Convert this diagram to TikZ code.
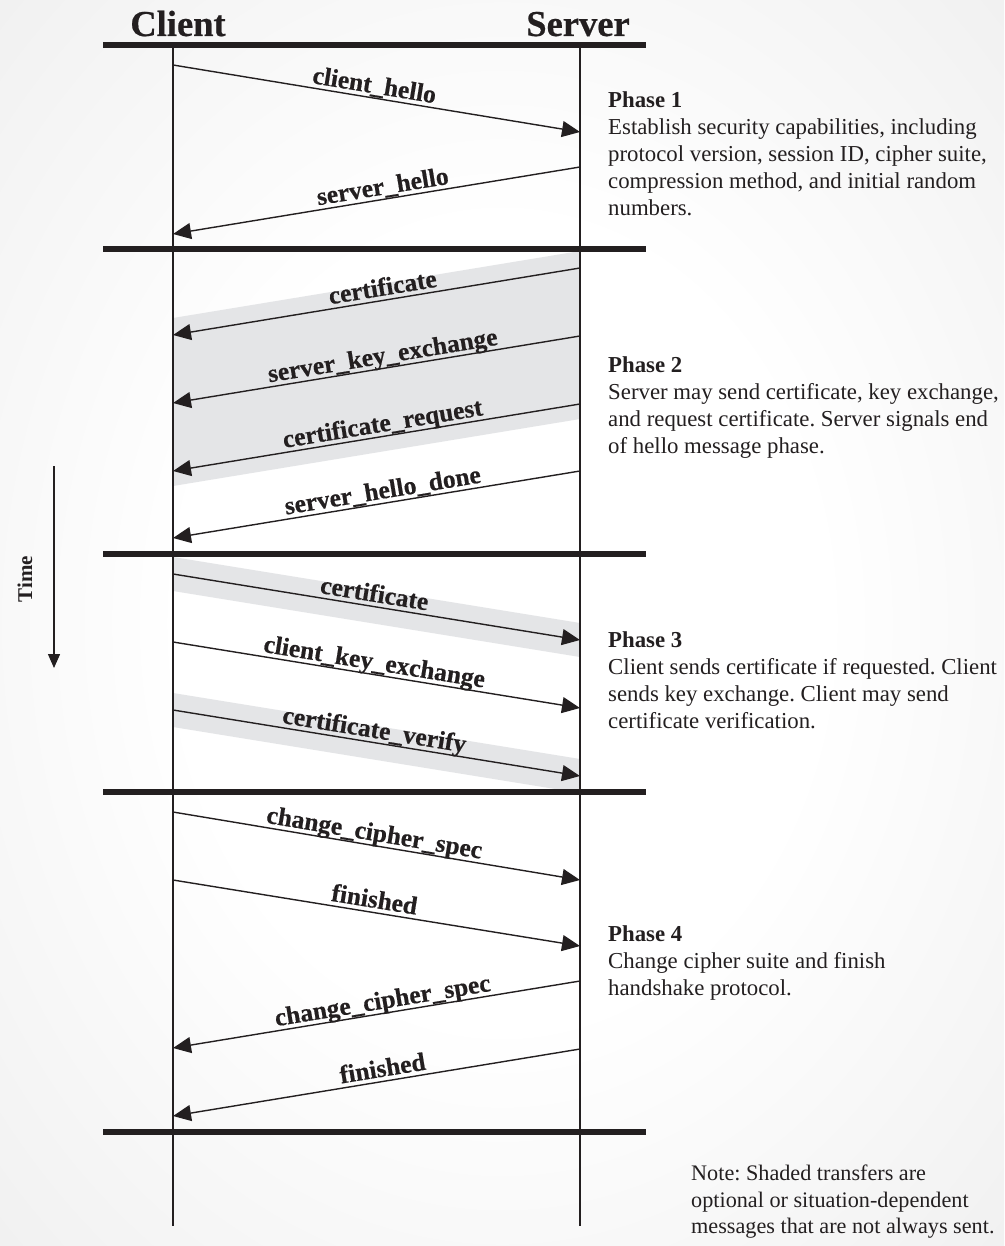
\documentclass[tikz,border=0pt]{standalone}
\usepackage{fontspec}
\setmainfont{Liberation Serif}
\newfontfamily\lblfont{Liberation Serif Bold}[FakeBold=0.5]
\usetikzlibrary{arrows.meta}
\pgfdeclareradialshading{bgshade}{\pgfpoint{0bp}{0bp}}{color(0bp)=(white); color(16bp)=(white); color(72bp)=(black!16)}
\definecolor{ink}{HTML}{231F20}
\definecolor{band}{HTML}{E4E5E7}
\frenchspacing
\begin{document}
\begin{tikzpicture}[x=1pt,y=-1pt,
  bar/.style={line width=5.5pt, draw=ink},
  life/.style={line width=1.5pt, draw=ink},
  msg/.style={line width=1.4pt, draw=ink, -{Triangle[length=18pt,width=16pt]}},
  lbl/.style={font=\fontsize{25.5}{25.5}\selectfont\lblfont, text=ink, sloped, above, inner sep=1.5pt, text depth=2.5pt},
  title/.style={font=\fontsize{36.5}{36.5}\selectfont\lblfont, text=ink, inner sep=0pt, anchor=base},
  desc/.style={font=\fontsize{22.8}{27}\selectfont, text=ink, align=left, inner sep=0pt, anchor=north west}]
\useasboundingbox (0,0) rectangle (1004,1246);
\shade[shading=bgshade] (0,0) rectangle (1004,1246);

% shaded bands (optional messages)
\fill[band] (173,318) -- (580,251) -- (580,419) -- (173,486) -- cycle;
\fill[band] (173,557) -- (580,623) -- (580,657) -- (173,591) -- cycle;
\fill[band] (173,693) -- (580,759) -- (580,793) -- (173,727) -- cycle;

% titles
\node[title] (client) at (178,36) {Client};
\node[title] (server) at (578,36) {Server};

% lifelines
\coordinate (ctop) at (173,45);
\coordinate (cbot) at (173,1226);
\coordinate (stop) at (580,45);
\coordinate (sbot) at (580,1226);
\draw[life] (ctop) -- (cbot);
\draw[life] (stop) -- (sbot);

% phase bars
\foreach \yy/\nm in {45/b0,249/b1,554/b2,792/b3,1132/b4}{
  \coordinate (\nm l) at (103,\yy);
  \coordinate (\nm r) at (646,\yy);
  \draw[bar] (\nm l) -- (\nm r);
}

% message end points
\coordinate (m1a) at (173,65);   \coordinate (m1b) at (580,132);
\coordinate (m2a) at (580,167);  \coordinate (m2b) at (173,234);
\coordinate (m3a) at (580,268);  \coordinate (m3b) at (173,335);
\coordinate (m4a) at (580,336);  \coordinate (m4b) at (173,403);
\coordinate (m5a) at (580,404);  \coordinate (m5b) at (173,471);
\coordinate (m6a) at (580,471);  \coordinate (m6b) at (173,538);
\coordinate (m7a) at (173,574);  \coordinate (m7b) at (580,640);
\coordinate (m8a) at (173,642);  \coordinate (m8b) at (580,708);
\coordinate (m9a) at (173,710);  \coordinate (m9b) at (580,776);
\coordinate (m10a) at (173,812); \coordinate (m10b) at (580,880);
\coordinate (m11a) at (173,880); \coordinate (m11b) at (580,946);
\coordinate (m12a) at (580,981); \coordinate (m12b) at (173,1048);
\coordinate (m13a) at (580,1049);\coordinate (m13b) at (173,1116);

\draw[msg] (m1a) -- node[lbl, pos=0.49] (l1) {client\_hello} (m1b);
\draw[msg] (m2a) -- node[lbl, pos=0.48] (l2) {server\_hello} (m2b);
\draw[msg] (m3a) -- node[lbl, pos=0.48] (l3) {certificate} (m3b);
\draw[msg] (m4a) -- node[lbl, pos=0.48] (l4) {server\_key\_exchange} (m4b);
\draw[msg] (m5a) -- node[lbl, pos=0.48] (l5) {certificate\_request} (m5b);
\draw[msg] (m6a) -- node[lbl, pos=0.48] (l6) {server\_hello\_done} (m6b);
\draw[msg] (m7a) -- node[lbl, pos=0.49] (l7) {certificate} (m7b);
\draw[msg] (m8a) -- node[lbl, pos=0.49] (l8) {client\_key\_exchange} (m8b);
\draw[msg] (m9a) -- node[lbl, pos=0.49] (l9) {certificate\_verify} (m9b);
\draw[msg] (m10a) -- node[lbl, pos=0.49] (l10) {change\_cipher\_spec} (m10b);
\draw[msg] (m11a) -- node[lbl, pos=0.49] (l11) {finished} (m11b);
\draw[msg] (m12a) -- node[lbl, pos=0.48] (l12) {change\_cipher\_spec} (m12b);
\draw[msg] (m13a) -- node[lbl, pos=0.48] (l13) {finished} (m13b);

% phase descriptions
\node[desc] (p1) at (608,91) {\textbf{Phase 1}\\Establish security capabilities, including\\protocol version, session ID, cipher suite,\\compression method, and initial random\\numbers.};
\node[desc] (p2) at (608,356) {\textbf{Phase 2}\\Server may send certificate, key exchange,\\and request certificate. Server signals end\\of hello message phase.};
\node[desc] (p3) at (608,631) {\textbf{Phase 3}\\Client sends certificate if requested. Client\\sends key exchange. Client may send\\certificate verification.};
\node[desc] (p4) at (608,925) {\textbf{Phase 4}\\Change cipher suite and finish\\handshake protocol.};
\node[desc, font=\fontsize{22.2}{26.5}\selectfont] (note) at (691,1165) {Note: Shaded transfers are\\optional or situation-dependent\\messages that are not always sent.};

% time axis
\coordinate (ttop) at (54,466);
\coordinate (tbot) at (54,668);
\draw[msg, -{Triangle[length=14pt,width=12pt]}] (ttop) -- (tbot);
\node[font=\fontsize{21}{21}\selectfont\bfseries, text=ink, rotate=90, inner sep=0pt] (time) at (25,579) {Time};
\end{tikzpicture}
\end{document}
